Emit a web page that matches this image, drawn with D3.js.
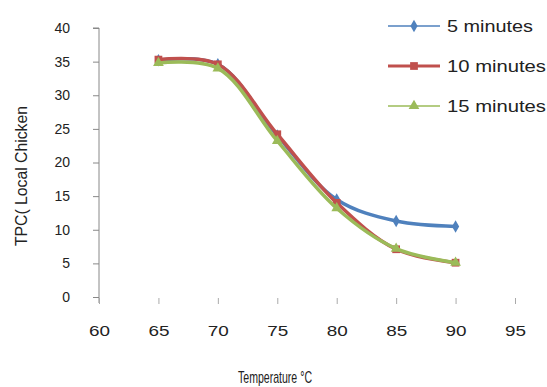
<!DOCTYPE html>
<html>
<head>
<meta charset="utf-8">
<script src="https://cdn.jsdelivr.net/npm/d3@7"></script>
<style>
  body { margin: 0; background: #fff; }
  svg text { font-family: "Liberation Sans", Arial, sans-serif; fill: #222; }
</style>
</head>
<body>
<div id="chart"></div>
<script>
"use strict";

// temperatures (C) and TPC values
var temps = [65, 70, 75, 80, 85, 90];
var min5 = [35.2, 34.6, 24.0, 14.5, 11.3, 10.5];
var min10 = [35.3, 34.6, 24.2, 14.0, 7.1, 5.1];
var min15 = [34.8, 34.0, 23.2, 13.2, 7.2, 5.1];
var seriesNames = ["5 minutes", "10 minutes", "15 minutes"];
var xTicks = [60, 65, 70, 75, 80, 85, 90, 95];
var yTicks = [0, 5, 10, 15, 20, 25, 30, 35, 40];

var W = 547, H = 387;
var svg = d3.select("#chart").append("svg").attr("width", W).attr("height", H);

var x = d3.scaleLinear().domain([60, 95]).range([99, 515]);
var y = d3.scaleLinear().domain([0, 40]).range([297, 28]);

// y axis
var yAxis = svg.append("g").attr("transform", "translate(99,0)")
    .call(d3.axisLeft(y).tickValues(yTicks).tickSize(6).tickPadding(23));
yAxis.select(".domain").attr("stroke", "#888").attr("d", "M-6,28H0V303");
yAxis.selectAll(".tick line").attr("stroke", "#888");
yAxis.selectAll("text").style("font-size", "14px").attr("fill", "#222");

// x axis: ticks only, no base line
var xAxis = svg.append("g").attr("transform", "translate(0,298)")
    .call(d3.axisBottom(x).tickValues(xTicks).tickSize(6).tickPadding(21));
xAxis.select(".domain").remove();
xAxis.selectAll(".tick line").attr("stroke", "#aaa");
xAxis.selectAll("text").style("font-size", "15px").attr("fill", "#222")
    .attr("textLength", 21).attr("lengthAdjust", "spacingAndGlyphs");

svg.append("text").attr("x", 238).attr("y", 383)
    .style("font-size", "17px").attr("textLength", 74).attr("lengthAdjust", "spacingAndGlyphs")
    .text("Temperature \u00b0C");

svg.append("text").attr("transform", "translate(27,176) rotate(-90)")
    .attr("text-anchor", "middle").style("font-size", "16px")
    .attr("textLength", 140).attr("lengthAdjust", "spacingAndGlyphs")
    .text("TPC( Local Chicken");

var series = [
  {name: seriesNames[0], vals: min5, color: "#4F81BD", sym: d3.symbolDiamond, size: 45, len: 86},
  {name: seriesNames[1], vals: min10, color: "#C0504D", sym: d3.symbolSquare, size: 60, len: 99},
  {name: seriesNames[2], vals: min15, color: "#9BBB59", sym: d3.symbolTriangle, size: 50, len: 99}
];

var line = d3.line()
    .x(function (d) { return x(d[0]); })
    .y(function (d) { return y(d[1]); })
    .curve(d3.curveCatmullRom.alpha(0.5));

series.forEach(function (s, i) {
  var pts = temps.map(function (t, j) { return [t, s.vals[j]]; });
  svg.append("path").datum(pts)
    .attr("fill", "none").attr("stroke", s.color)
    .attr("stroke-width", 3.5).attr("stroke-linejoin", "round")
    .attr("d", line);
  svg.selectAll(".m" + i).data(pts).enter().append("path")
    .attr("class", "m" + i)
    .attr("transform", function (d) { return "translate(" + x(d[0]) + "," + y(d[1]) + ")"; })
    .attr("d", d3.symbol().type(s.sym).size(s.size))
    .attr("fill", s.color);

  // legend
  var ly = 26 + i * 40;
  svg.append("line").attr("x1", 388).attr("x2", 440).attr("y1", ly).attr("y2", ly)
    .attr("stroke", s.color).attr("stroke-width", i == 1 ? 3 : 1.5);
  svg.append("path").attr("transform", "translate(414," + ly + ")")
    .attr("d", d3.symbol().type(s.sym).size(s.size)).attr("fill", s.color);
  svg.append("text").attr("x", 447).attr("y", ly + 6)
    .style("font-size", "17px").attr("textLength", s.len).attr("lengthAdjust", "spacingAndGlyphs")
    .text(s.name);
});
</script>
</body>
</html>
